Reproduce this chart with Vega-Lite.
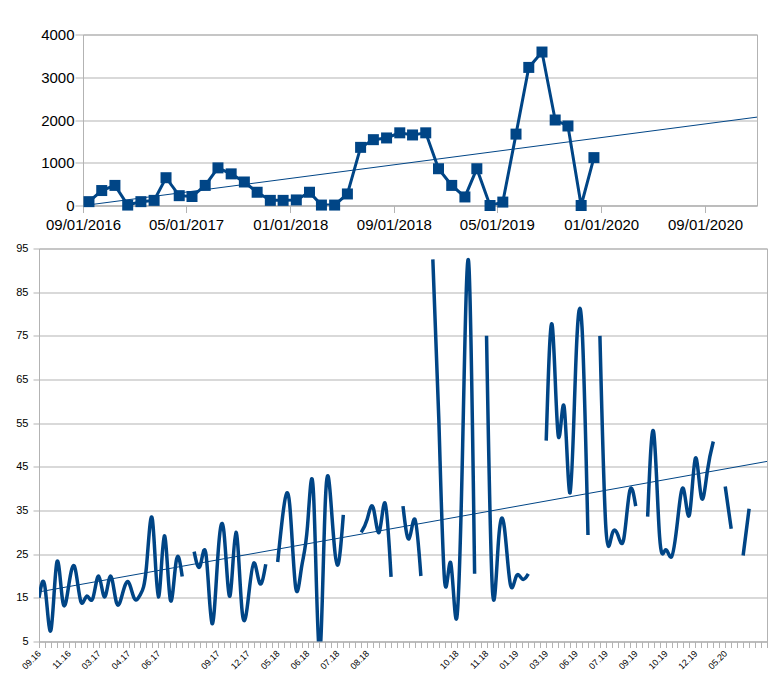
{
  "$schema": "https://vega.github.io/schema/vega-lite/v6.json",
  "background": "white",
  "padding": {"left": 0, "top": 26.5, "right": 0, "bottom": 0},
  "spacing": 8,
  "config": {
    "font": "Liberation Sans",
    "view": {"stroke": "#b3b3b3", "strokeWidth": 1},
    "axis": {"gridColor": "#b3b3b3", "domainColor": "#b3b3b3", "tickColor": "#b3b3b3", "labelColor": "#000000"}
  },
  "vconcat": [
    {
      "spacing": 0,
      "hconcat": [
        {
          "width": 1,
          "height": 1,
          "view": {"stroke": null},
          "data": {"values": [{}]},
          "mark": {"type": "point", "size": 0, "strokeWidth": 0, "opacity": 0}
        },
        {
          "width": 674,
          "height": 171,
          "data": {
            "format": {"parse": {"date": "date"}},
            "values": [
              {"date": "2016-09-15", "value": 90},
              {"date": "2016-10-15", "value": 350},
              {"date": "2016-11-15", "value": 470},
              {"date": "2016-12-15", "value": 10},
              {"date": "2017-01-15", "value": 90},
              {"date": "2017-02-15", "value": 120},
              {"date": "2017-03-15", "value": 650},
              {"date": "2017-04-15", "value": 230},
              {"date": "2017-05-15", "value": 210},
              {"date": "2017-06-15", "value": 470},
              {"date": "2017-07-15", "value": 880},
              {"date": "2017-08-15", "value": 740},
              {"date": "2017-09-15", "value": 550},
              {"date": "2017-10-15", "value": 310},
              {"date": "2017-11-15", "value": 120},
              {"date": "2017-12-15", "value": 120},
              {"date": "2018-01-15", "value": 130},
              {"date": "2018-02-15", "value": 310},
              {"date": "2018-03-15", "value": 10},
              {"date": "2018-04-15", "value": 10},
              {"date": "2018-05-15", "value": 270},
              {"date": "2018-06-15", "value": 1360},
              {"date": "2018-07-15", "value": 1540},
              {"date": "2018-08-15", "value": 1580},
              {"date": "2018-09-15", "value": 1700},
              {"date": "2018-10-15", "value": 1650},
              {"date": "2018-11-15", "value": 1700},
              {"date": "2018-12-15", "value": 860},
              {"date": "2019-01-15", "value": 470},
              {"date": "2019-02-15", "value": 200},
              {"date": "2019-03-15", "value": 860},
              {"date": "2019-04-15", "value": 0},
              {"date": "2019-05-15", "value": 80},
              {"date": "2019-06-15", "value": 1670},
              {"date": "2019-07-15", "value": 3230},
              {"date": "2019-08-15", "value": 3590},
              {"date": "2019-09-15", "value": 2000},
              {"date": "2019-10-15", "value": 1860},
              {"date": "2019-11-15", "value": 0},
              {"date": "2019-12-15", "value": 1120}
            ]
          },
          "encoding": {
            "x": {
              "field": "date",
              "type": "temporal",
              "title": null,
              "scale": {
                "type": "utc",
                "domain": [
                  {"year": 2016, "month": 9, "date": 1, "utc": true},
                  {"year": 2021, "month": 1, "date": 1, "utc": true}
                ]
              },
              "axis": {
                "values": [
                  {"year": 2016, "month": 9, "date": 1, "utc": true},
                  {"year": 2017, "month": 5, "date": 1, "utc": true},
                  {"year": 2018, "month": 1, "date": 1, "utc": true},
                  {"year": 2018, "month": 9, "date": 1, "utc": true},
                  {"year": 2019, "month": 5, "date": 1, "utc": true},
                  {"year": 2020, "month": 1, "date": 1, "utc": true},
                  {"year": 2020, "month": 9, "date": 1, "utc": true}
                ],
                "format": "%m/%d/%Y",
                "grid": false,
                "tickSize": 7,
                "labelPadding": 5,
                "labelFontSize": 15,
                "labelFlush": false,
                "labelOverlap": false
              }
            },
            "y": {
              "field": "value",
              "type": "quantitative",
              "title": null,
              "scale": {"domain": [0, 4000], "nice": false},
              "axis": {
                "values": [0, 1000, 2000, 3000, 4000],
                "format": "d",
                "tickSize": 8,
                "labelPadding": 1,
                "labelFontSize": 15,
                "grid": true
              }
            }
          },
          "layer": [
            {"mark": {"type": "line", "color": "#004586", "strokeWidth": 3, "clip": true}},
            {"mark": {"type": "point", "shape": "square", "filled": true, "size": 121, "color": "#004586", "opacity": 1}},
            {
              "transform": [{"regression": "value", "on": "date", "extent": [1473897600000, 1609459200000]}],
              "mark": {"type": "line", "color": "#004586", "strokeWidth": 1, "clip": true}
            }
          ]
        }
      ]
    },
    {
      "width": 728,
      "height": 393,
      "data": {
        "values": [
          {"n": 0, "v": 15}, {"n": 1, "v": 17.5}, {"n": 2, "v": 7.6}, {"n": 3, "v": 23.2}, {"n": 4, "v": 14},
          {"n": 5, "v": 18}, {"n": 6, "v": 22}, {"n": 7, "v": 14.2}, {"n": 8, "v": 15.4}, {"n": 9, "v": 14.8},
          {"n": 10, "v": 20}, {"n": 11, "v": 15.2}, {"n": 12, "v": 20}, {"n": 13, "v": 13.8}, {"n": 14, "v": 16},
          {"n": 15, "v": 18.6}, {"n": 16, "v": 14.8}, {"n": 17, "v": 15.8}, {"n": 18, "v": 22}, {"n": 19, "v": 33},
          {"n": 20, "v": 15.2}, {"n": 21, "v": 29.2}, {"n": 22, "v": 14.6}, {"n": 23, "v": 23.5}, {"n": 24, "v": 19.9},
          {"n": 25, "v": null}, {"n": 26, "v": 25.6}, {"n": 27, "v": 22.3}, {"n": 28, "v": 24.8}, {"n": 29, "v": 9.1},
          {"n": 30, "v": 25}, {"n": 31, "v": 30}, {"n": 32, "v": 15.4}, {"n": 33, "v": 30}, {"n": 34, "v": 12.5},
          {"n": 35, "v": 14}, {"n": 36, "v": 23}, {"n": 37, "v": 18.3}, {"n": 38, "v": 22.7}, {"n": 39, "v": null},
          {"n": 40, "v": 23.2}, {"n": 41, "v": 35.5}, {"n": 42, "v": 36.5}, {"n": 43, "v": 17.5}, {"n": 44, "v": 22},
          {"n": 45, "v": 31.5}, {"n": 46, "v": 39}, {"n": 47, "v": 2}, {"n": 48, "v": 37.5}, {"n": 49, "v": 35.5},
          {"n": 50, "v": 22.5}, {"n": 51, "v": 34}, {"n": 52, "v": null}, {"n": 53, "v": null}, {"n": 54, "v": 30},
          {"n": 55, "v": 33}, {"n": 56, "v": 35.7}, {"n": 57, "v": 30}, {"n": 58, "v": 36.7}, {"n": 59, "v": 19.8},
          {"n": 60, "v": null}, {"n": 61, "v": 36}, {"n": 62, "v": 28.5}, {"n": 63, "v": 33}, {"n": 64, "v": 20},
          {"n": 65, "v": null}, {"n": 66, "v": 92.5}, {"n": 67, "v": 56}, {"n": 68, "v": 18.5}, {"n": 69, "v": 23},
          {"n": 70, "v": 10.3}, {"n": 71, "v": 50}, {"n": 72, "v": 92}, {"n": 73, "v": 20.5}, {"n": 74, "v": null},
          {"n": 75, "v": 75}, {"n": 76, "v": 16.5}, {"n": 77, "v": 28}, {"n": 78, "v": 31}, {"n": 79, "v": 18},
          {"n": 80, "v": 20}, {"n": 81, "v": 19.3}, {"n": 82, "v": 20.5}, {"n": 83, "v": null}, {"n": 84, "v": null},
          {"n": 85, "v": 51}, {"n": 86, "v": 77.5}, {"n": 87, "v": 52.3}, {"n": 88, "v": 58.8}, {"n": 89, "v": 39},
          {"n": 90, "v": 70}, {"n": 91, "v": 77}, {"n": 92, "v": 29.4}, {"n": 93, "v": null}, {"n": 94, "v": 75},
          {"n": 95, "v": 31}, {"n": 96, "v": 29.4}, {"n": 97, "v": 29.4}, {"n": 98, "v": 28.5}, {"n": 99, "v": 39.5},
          {"n": 100, "v": 36}, {"n": 101, "v": null}, {"n": 102, "v": 33.6}, {"n": 103, "v": 53}, {"n": 104, "v": 29},
          {"n": 105, "v": 26}, {"n": 106, "v": 24.4}, {"n": 107, "v": 32.5}, {"n": 108, "v": 40}, {"n": 109, "v": 34},
          {"n": 110, "v": 47}, {"n": 111, "v": 38}, {"n": 112, "v": 44}, {"n": 113, "v": 50.8}, {"n": 114, "v": null},
          {"n": 115, "v": 40.5}, {"n": 116, "v": 30.8}, {"n": 117, "v": null}, {"n": 118, "v": 24.7}, {"n": 119, "v": 35.4},
          {"n": 120, "v": null}, {"n": 121, "v": null}, {"n": 122, "v": null}
        ]
      },
      "encoding": {
        "x": {
          "field": "n",
          "type": "quantitative",
          "title": null,
          "scale": {"domain": [0, 122], "nice": false, "zero": false},
          "axis": {
            "values": [0,1,2,3,4,5,6,7,8,9,10,11,12,13,14,15,16,17,18,19,20,21,22,23,24,25,26,27,28,29,30,31,32,33,34,35,36,37,38,39,40,41,42,43,44,45,46,47,48,49,50,51,52,53,54,55,56,57,58,59,60,61,62,63,64,65,66,67,68,69,70,71,72,73,74,75,76,77,78,79,80,81,82,83,84,85,86,87,88,89,90,91,92,93,94,95,96,97,98,99,100,101,102,103,104,105,106,107,108,109,110,111,112,113,114,115,116,117,118,119,120,121,122],
            "labelExpr": "datum.value % 5 == 0 ? ['09.16','11.16','03.17','04.17','06.17','','09.17','12.17','05.18','06.18','07.18','08.18','','','10.18','11.18','01.19','03.19','06.19','07.19','09.19','10.19','12.19','05.20',''][datum.value / 5] : ''",
            "grid": false,
            "tickSize": 6,
            "labelAngle": -45,
            "labelAlign": "right",
            "labelBaseline": "middle",
            "labelPadding": 4,
            "labelFontSize": 9,
            "labelFlush": false,
            "labelOverlap": false,
            "labelBound": false
          }
        },
        "y": {
          "field": "v",
          "type": "quantitative",
          "title": null,
          "scale": {"domain": [5, 95], "nice": false, "zero": false},
          "axis": {
            "values": [5, 15, 25, 35, 45, 55, 65, 75, 85, 95],
            "tickSize": 6,
            "labelPadding": 5,
            "labelFontSize": 11,
            "minExtent": 38,
            "grid": true
          }
        }
      },
      "layer": [
        {"mark": {"type": "line", "color": "#004586", "strokeWidth": 3.5, "interpolate": "natural", "clip": true, "invalid": "break-paths-show-domains"}},
        {
          "transform": [{"regression": "v", "on": "n", "extent": [0, 122]}],
          "mark": {"type": "line", "color": "#004586", "strokeWidth": 1, "clip": true}
        }
      ]
    }
  ]
}
